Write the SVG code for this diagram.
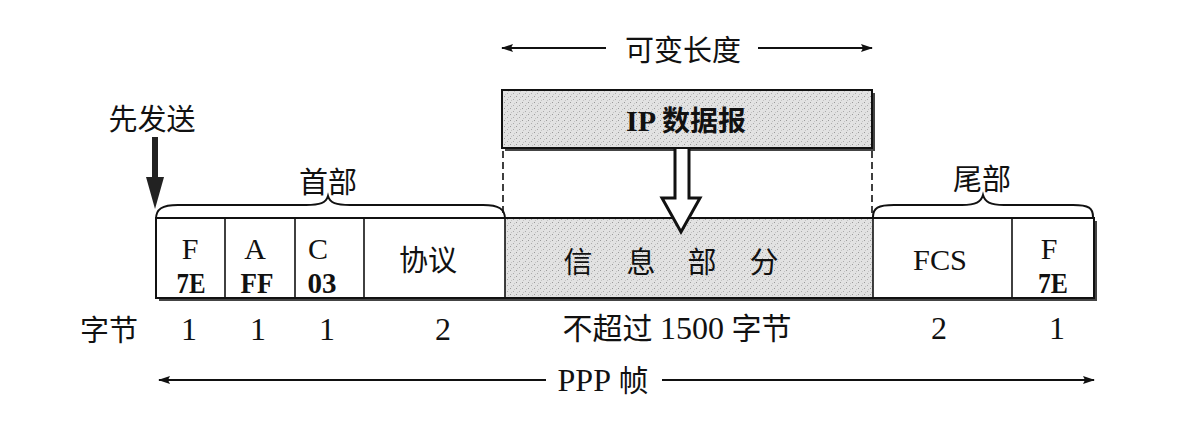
<svg xmlns="http://www.w3.org/2000/svg" width="1177" height="432" viewBox="0 0 1177 432">
<style>
  .t { font-family: "Liberation Serif", "Noto Sans CJK SC", serif; font-size: 30px; fill: #111; text-anchor: middle; }
  .L { font-size: 32px; }
  .c { font-family: "Noto Sans CJK SC", "Liberation Serif", sans-serif; font-size: 29px; fill: #111; text-anchor: middle; }
  .b { font-weight: bold; }
  .box { fill: #fff; stroke: #111; stroke-width: 2; }
  .div { stroke: #111; stroke-width: 1.6; fill: none; }
  .ln { stroke: #111; stroke-width: 2; fill: none; }
  .dash { stroke: #111; stroke-width: 1.6; stroke-dasharray: 7 4; fill: none; }
  .shadow { fill: #444; }
</style>
<defs>
  <pattern id="stip" width="6" height="6" patternUnits="userSpaceOnUse">
    <rect width="6" height="6" fill="#e2e2e2"/>
    <rect x="0" y="0" width="1" height="1" fill="#9a9a9a"/>
    <rect x="3" y="3" width="1" height="1" fill="#aaaaaa"/>
    <rect x="4" y="1" width="1" height="1" fill="#c4c4c4"/>
    <rect x="1" y="4" width="1" height="1" fill="#c4c4c4"/>
  </pattern>
  <marker id="ah" viewBox="0 0 12 8" refX="11" refY="4" markerWidth="12" markerHeight="8" markerUnits="userSpaceOnUse" orient="auto-start-reverse">
    <path d="M0,0 L12,4 L0,8 L2,4 Z" fill="#111"/>
  </marker>
</defs>
<rect width="1177" height="432" fill="#fff"/>

<g id="variable-length">
  <text class="c" x="683" y="61">可变长度</text>
</g>

<g id="ip-datagram">
  <rect class="shadow" x="505" y="93" width="370" height="58"/>
  <rect x="502" y="90" width="370" height="58" fill="url(#stip)" stroke="#111" stroke-width="2"/>
  <text class="t b" x="686" y="131">IP <tspan font-family="Noto Sans CJK SC, sans-serif" font-size="28">数据报</tspan></text>
</g>

<g id="send-first">
  <text class="c" x="152" y="130">先发送</text>
</g>

<g id="frame">
  <rect class="shadow" x="159" y="221" width="938" height="80"/>
  <rect class="box" x="156" y="218" width="938" height="80"/>
  <g id="info">
    <rect x="505" y="219" width="368" height="78" fill="url(#stip)"/>
    <text class="c" x="578" y="273">信</text>
    <text class="c" x="641" y="273">息</text>
    <text class="c" x="702" y="273">部</text>
    <text class="c" x="764" y="273">分</text>
  </g>
  <g id="field-f1">
    <text class="t" x="190" y="259">F</text>
    <text class="t b" x="191" y="293" textLength="29" lengthAdjust="spacingAndGlyphs">7E</text>
  </g>
  <line class="div" x1="225" y1="218" x2="225" y2="298"/>
  <g id="field-a">
    <text class="t" x="255" y="259">A</text>
    <text class="t b" x="257" y="293" textLength="33" lengthAdjust="spacingAndGlyphs">FF</text>
  </g>
  <line class="div" x1="295" y1="218" x2="295" y2="298"/>
  <g id="field-c">
    <text class="t" x="318" y="259">C</text>
    <text class="t b" x="322" y="293" textLength="29" lengthAdjust="spacingAndGlyphs">03</text>
  </g>
  <line class="div" x1="364" y1="218" x2="364" y2="298"/>
  <g id="field-protocol">
    <text class="c" x="428" y="271">协议</text>
  </g>
  <line class="div" x1="505" y1="218" x2="505" y2="298"/>
  <line class="div" x1="873" y1="218" x2="873" y2="298"/>
  <g id="field-fcs">
    <text class="t" x="940" y="270" textLength="54" lengthAdjust="spacingAndGlyphs" font-size="32">FCS</text>
  </g>
  <line class="div" x1="1012" y1="218" x2="1012" y2="298"/>
  <g id="field-f2">
    <text class="t" x="1049" y="259">F</text>
    <text class="t b" x="1053" y="293" textLength="30" lengthAdjust="spacingAndGlyphs">7E</text>
  </g>
</g>

<g id="header-label">
  <text class="c" x="328" y="193">首部</text>
</g>
<g id="trailer-label">
  <text class="c" x="982" y="190">尾部</text>
</g>

<g id="bytes-row">
  <text class="c" x="109" y="341">字节</text>
  <text class="t L" x="189" y="340">1</text>
  <text class="t L" x="258" y="340">1</text>
  <text class="t L" x="327" y="340">1</text>
  <text class="t L" x="443" y="340">2</text>
  <text class="t" x="677" y="339">不超过 <tspan font-size="32">1500</tspan> 字节</text>
  <text class="t L" x="939" y="339">2</text>
  <text class="t L" x="1057" y="339">1</text>
</g>

<g id="ppp-frame-label">
  <text class="t" x="603" y="391"><tspan font-size="32">PPP</tspan> 帧</text>
</g>

<g id="connectors">
  <line class="ln" x1="606" y1="48" x2="502" y2="48" marker-end="url(#ah)"/>
  <line class="ln" x1="758" y1="48" x2="872" y2="48" marker-end="url(#ah)"/>
  <line class="dash" x1="503" y1="151" x2="503" y2="217"/>
  <line class="dash" x1="872" y1="151" x2="872" y2="217"/>
  <path d="M675,149 L675,198 L662,198 L681,232 L700,198 L689,198 L689,149" fill="#fff" stroke="#111" stroke-width="3" stroke-linejoin="miter"/>
  <rect x="152" y="137" width="6" height="42" fill="#222"/>
  <polygon points="146,177 164,177 155,209" fill="#222"/>
  <path class="ln" d="M156,219 C156,209 162,205 178,205 L306,205 C320,205 326,203 328,196 C330,203 336,205 350,205 L483,205 C499,205 505,209 505,219"/>
  <path class="ln" d="M873,217 C873,208 878,205 894,205 L962,205 C976,205 981,202 983,195 C985,202 990,205 1004,205 L1073,205 C1089,205 1093,208 1093,217"/>
  <line class="ln" x1="546" y1="380" x2="159" y2="380" marker-end="url(#ah)"/>
  <line class="ln" x1="662" y1="380" x2="1094" y2="380" marker-end="url(#ah)"/>
</g>
</svg>
